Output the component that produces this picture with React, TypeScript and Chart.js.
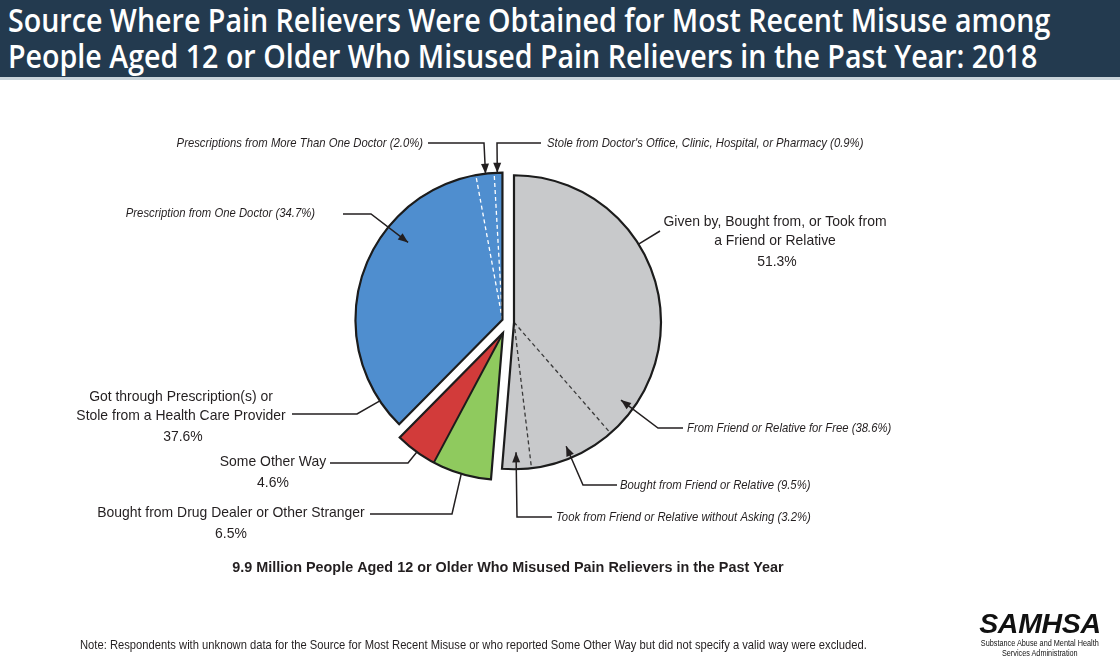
import React, { useEffect, useRef } from 'react';
import { Chart, registerables } from 'chart.js';

Chart.register(...registerables);

// ---------------- data ----------------
const sliceLabels = [
  'From Friend or Relative for Free',
  'Bought from Friend or Relative',
  'Took from Friend or Relative without Asking',
  'Bought from Drug Dealer or Other Stranger',
  'Some Other Way',
  'Prescription from One Doctor',
  'Prescriptions from More Than One Doctor',
  "Stole from Doctor's Office, Clinic, Hospital, or Pharmacy",
];
const sliceValues = [38.6, 9.5, 3.2, 6.5, 4.6, 34.7, 2.0, 0.9];
const sliceGroup = [0, 0, 0, 1, 1, 2, 2, 2];
const groupLabels = [
  ['Given by, Bought from, or Took from', 'a Friend or Relative'],
  [],
  ['Got through Prescription(s) or', 'Stole from a Health Care Provider'],
];
const groupValues = [51.3, 11.1, 37.6];
const titleLines = [
  'Source Where Pain Relievers Were Obtained for Most Recent Misuse among',
  'People Aged 12 or Older Who Misused Pain Relievers in the Past Year: 2018',
];
const subtitle = '9.9 Million People Aged 12 or Older Who Misused Pain Relievers in the Past Year';
const note =
  'Note: Respondents with unknown data for the Source for Most Recent Misuse or who reported Some Other Way but did not specify a valid way were excluded.';
const logoLines = ['SAMHSA', 'Substance Abuse and Mental Health', 'Services Administration'];

// ---------------- styles ----------------
const GRAY = '#c8c9cb';
const GREEN = '#8fca5e';
const RED = '#d23b3a';
const BLUE = '#4f8ecf';
const sliceColors = [GRAY, GRAY, GRAY, GREEN, RED, BLUE, BLUE, BLUE];
const groupStyle = [
  { offset: 6, dash: [4, 3], dashColor: '#3a3a3a', dashWidth: 1.3 },
  { offset: 12, dash: [], dashColor: '#1c1c1c', dashWidth: 2 },
  { offset: 6, dash: [4, 3], dashColor: '#ffffff', dashWidth: 1.3 },
];
const INK = '#231f20';
const SANS = '"Liberation Sans", Arial, sans-serif';

type Ann = {
  kind: 'italic' | 'group' | 'big';
  idx: number;
  align: CanvasTextAlign;
  x: number;
  y: number;
  path: number[][];
  tipSlice: number;
  tip: [number, number];
  arrow: boolean;
};

const annotations: Ann[] = [
  { kind: 'italic', idx: 6, align: 'right', x: 423, y: 143, path: [[428, 143], [484, 143]], tipSlice: 6, tip: [0.53, 1.0], arrow: true },
  { kind: 'italic', idx: 7, align: 'left', x: 547, y: 143, path: [[541, 143], [497, 143]], tipSlice: 7, tip: [0.38, 1.0], arrow: true },
  { kind: 'italic', idx: 5, align: 'right', x: 315, y: 213, path: [[343, 214], [371, 214]], tipSlice: 5, tip: [0.678, 0.83], arrow: true },
  { kind: 'italic', idx: 0, align: 'left', x: 687, y: 428, path: [[683, 428], [658, 428]], tipSlice: 0, tip: [0.907, 0.9], arrow: true },
  { kind: 'italic', idx: 1, align: 'left', x: 620, y: 485, path: [[617, 485], [583, 485]], tipSlice: 1, tip: [0.533, 0.915], arrow: true },
  { kind: 'italic', idx: 2, align: 'left', x: 556, y: 517, path: [[552, 517], [517, 517]], tipSlice: 2, tip: [0.516, 0.885], arrow: true },
  { kind: 'group', idx: 0, align: 'center', x: 775, y: 222, path: [[660, 231]], tipSlice: 0, tip: [0.417, 1.0], arrow: false },
  { kind: 'group', idx: 2, align: 'center', x: 181, y: 397, path: [[292, 414], [357, 414]], tipSlice: 5, tip: [0.095, 1.0], arrow: false },
  { kind: 'big', idx: 4, align: 'center', x: 273, y: 462, path: [[330, 463], [408, 463]], tipSlice: 4, tip: [0.47, 1.0], arrow: false },
  { kind: 'big', idx: 3, align: 'center', x: 231, y: 513, path: [[370, 514], [452, 514]], tipSlice: 3, tip: [0.505, 1.0], arrow: false },
];

function arcProps(el: any) {
  return el.getProps(['x', 'y', 'startAngle', 'endAngle', 'outerRadius'], true);
}

function sText(ctx: CanvasRenderingContext2D, text: string, x: number, y: number, align: CanvasTextAlign, sx: number) {
  ctx.save();
  ctx.translate(x, y);
  ctx.scale(sx, 1);
  ctx.textAlign = align;
  ctx.fillText(text, 0, 0);
  ctx.restore();
}

const groupPlugin = {
  id: 'groupedPie',
  beforeDatasetDraw(chart: any, args: any) {
    const meta = chart.getDatasetMeta(args.index);
    const ctx: CanvasRenderingContext2D = chart.ctx;
    const arcs = meta.data;
    const shifts: number[][] = [];
    groupStyle.forEach((gs, g) => {
      const members = sliceGroup.map((gg, i) => (gg === g ? i : -1)).filter((i) => i >= 0);
      const first = arcProps(arcs[members[0]]);
      const last = arcProps(arcs[members[members.length - 1]]);
      const mid = (first.startAngle + last.endAngle) / 2;
      const dx = Math.cos(mid) * gs.offset;
      const dy = Math.sin(mid) * gs.offset;
      shifts[g] = [dx, dy];
      ctx.save();
      ctx.translate(dx, dy);
      members.forEach((i) => arcs[i].draw(ctx, chart.chartArea));
      const { x, y, outerRadius: r } = first;
      ctx.strokeStyle = gs.dashColor;
      ctx.lineWidth = gs.dashWidth;
      ctx.setLineDash(gs.dash);
      for (let k = 0; k < members.length - 1; k++) {
        const a = arcProps(arcs[members[k]]).endAngle;
        ctx.beginPath();
        ctx.moveTo(x, y);
        ctx.lineTo(x + Math.cos(a) * r, y + Math.sin(a) * r);
        ctx.stroke();
      }
      ctx.setLineDash([]);
      ctx.beginPath();
      ctx.moveTo(x, y);
      ctx.arc(x, y, r, first.startAngle, last.endAngle);
      ctx.closePath();
      ctx.lineWidth = 2.2;
      ctx.lineJoin = 'miter';
      ctx.strokeStyle = '#1c1c1c';
      ctx.stroke();
      ctx.restore();
    });
    chart.$groupShift = shifts;
    return false;
  },
};

function arrowHead(ctx: CanvasRenderingContext2D, from: number[], to: number[]) {
  const ang = Math.atan2(to[1] - from[1], to[0] - from[0]);
  const L = 10;
  const W = 4;
  const bx = to[0] - L * Math.cos(ang);
  const by = to[1] - L * Math.sin(ang);
  ctx.beginPath();
  ctx.moveTo(to[0], to[1]);
  ctx.lineTo(bx + W * Math.sin(ang), by - W * Math.cos(ang));
  ctx.lineTo(bx - W * Math.sin(ang), by + W * Math.cos(ang));
  ctx.closePath();
  ctx.fill();
}

const annotationPlugin = {
  id: 'annotations',
  afterDraw(chart: any) {
    const ctx: CanvasRenderingContext2D = chart.ctx;
    const arcs = chart.getDatasetMeta(0).data;
    const shifts = chart.$groupShift || [[0, 0], [0, 0], [0, 0]];
    ctx.save();
    ctx.fillStyle = INK;
    ctx.strokeStyle = INK;
    ctx.textBaseline = 'middle';
    annotations.forEach((a) => {
      const p = arcProps(arcs[a.tipSlice]);
      const sh = shifts[sliceGroup[a.tipSlice]];
      const ang = p.startAngle + a.tip[0] * (p.endAngle - p.startAngle);
      const rr = p.outerRadius * a.tip[1];
      const tip = [p.x + sh[0] + Math.cos(ang) * rr, p.y + sh[1] + Math.sin(ang) * rr];
      const pts = [...a.path, tip];
      ctx.lineWidth = 1.5;
      ctx.beginPath();
      ctx.moveTo(pts[0][0], pts[0][1]);
      for (let i = 1; i < pts.length; i++) ctx.lineTo(pts[i][0], pts[i][1]);
      ctx.stroke();
      if (a.arrow) arrowHead(ctx, pts[pts.length - 2], tip);

      if (a.kind === 'italic') {
        ctx.font = `italic 13px ${SANS}`;
        sText(ctx, `${sliceLabels[a.idx]} (${sliceValues[a.idx].toFixed(1)}%)`, a.x, a.y, a.align, 0.87);
      } else if (a.kind === 'group') {
        ctx.font = `15px ${SANS}`;
        const lines = groupLabels[a.idx];
        lines.forEach((t, i) => sText(ctx, t, a.x, a.y + i * 18.5, 'center', 0.93));
        sText(ctx, `${groupValues[a.idx].toFixed(1)}%`, a.x + 2, a.y + (lines.length - 1) * 18.5 + 21, 'center', 0.93);
      } else {
        ctx.font = `15px ${SANS}`;
        sText(ctx, sliceLabels[a.idx], a.x, a.y, 'center', 0.93);
        sText(ctx, `${sliceValues[a.idx].toFixed(1)}%`, a.x, a.y + 20.5, 'center', 0.93);
      }
    });
    ctx.font = `bold 15px ${SANS}`;
    sText(ctx, subtitle, 508, 568, 'center', 0.96);
    ctx.font = `13.5px ${SANS}`;
    sText(ctx, note, 80, 645, 'left', 0.83);
    ctx.restore();
  },
};

export default function App() {
  const ref = useRef<HTMLCanvasElement>(null);
  useEffect(() => {
    const chart = new Chart(ref.current!, {
      type: 'pie',
      data: {
        labels: sliceLabels,
        datasets: [
          {
            data: sliceValues,
            backgroundColor: sliceColors,
            borderColor: sliceColors,
            borderWidth: 1,
            radius: 147,
          } as any,
        ],
      },
      options: {
        responsive: false,
        animation: false,
        events: [],
        layout: { padding: { left: 0, right: 104, top: 0, bottom: 20 } },
        plugins: { legend: { display: false }, tooltip: { enabled: false } },
      },
      plugins: [groupPlugin as any, annotationPlugin as any],
    });
    return () => chart.destroy();
  }, []);

  const scaled = (sx: number): React.CSSProperties => ({
    display: 'inline-block',
    whiteSpace: 'nowrap',
    transform: `scaleX(${sx})`,
    transformOrigin: 'center top',
  });

  return (
    <div style={{ position: 'absolute', left: 0, top: 0, width: 1120, height: 664, background: '#fff', overflow: 'hidden' }}>
      <canvas ref={ref} width={1120} height={664} style={{ position: 'absolute', left: 0, top: 0, width: 1120, height: 664 }} />
      <div style={{ position: 'absolute', left: 0, top: 0, width: 1120, height: 77, background: '#233a4f', borderBottom: '3px solid #c9d3da' }}>
        {titleLines.map((t, i) => (
          <div
            key={i}
            style={{
              position: 'absolute',
              left: 8,
              top: 1 + i * 36,
              whiteSpace: 'nowrap',
              color: '#fff',
              fontFamily: '"Open Sans", sans-serif',
              fontWeight: 600,
              fontSize: 33,
              lineHeight: '38px',
              transform: 'scaleX(0.867)',
              transformOrigin: 'left top',
            }}
          >
            {t}
          </div>
        ))}
      </div>
      <div style={{ position: 'absolute', left: 965, top: 608, width: 150, textAlign: 'center', color: '#111' }}>
        <div style={{ fontFamily: SANS, fontWeight: 700, fontStyle: 'italic', fontSize: 28.5, lineHeight: '30px', letterSpacing: -0.3 }}>{logoLines[0]}</div>
        <div style={{ fontFamily: SANS, fontSize: 9, lineHeight: '10px' }}>
          <span style={scaled(0.81)}>{logoLines[1]}</span>
        </div>
        <div style={{ fontFamily: SANS, fontSize: 9, lineHeight: '10px' }}>
          <span style={scaled(0.81)}>{logoLines[2]}</span>
        </div>
      </div>
    </div>
  );
}
